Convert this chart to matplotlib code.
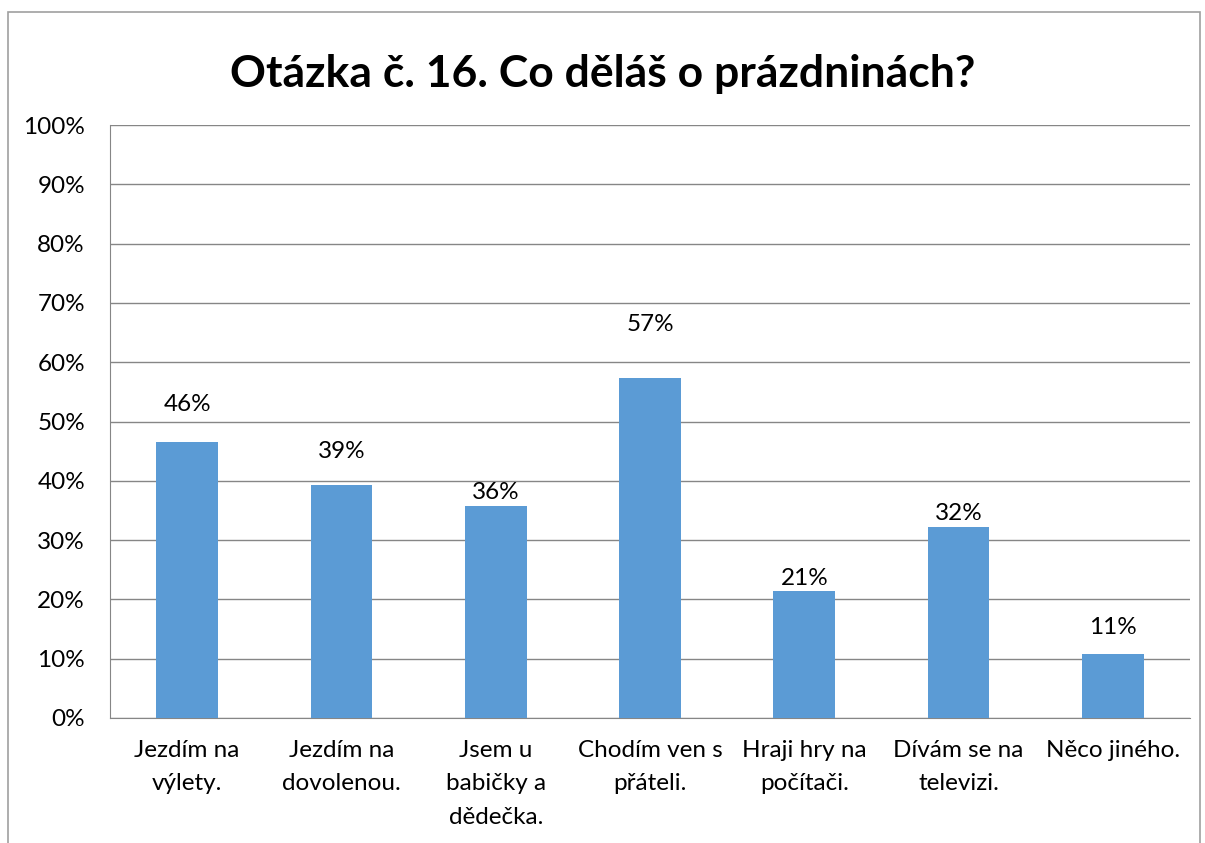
import matplotlib.pyplot as plt
from matplotlib.patches import Rectangle

categories = ["Jezdím na\nvýlety.", "Jezdím na\ndovolenou.", "Jsem u\nbabičky a\ndědečka.",
              "Chodím ven s\npřáteli.", "Hraji hry na\npočítači.", "Dívám se na\ntelevizi.",
              "Něco jiného."]
values = [46.5, 39.3, 35.7, 57.3, 21.4, 32.2, 10.8]
labels = ["46%", "39%", "36%", "57%", "21%", "32%", "11%"]
# label centre offsets above bar tops, in points
label_offsets = [27, 24, 10, 39, 9, 10, 19]

plt.rcParams['font.family'] = ['Lato', 'DejaVu Sans']

fig = plt.figure(figsize=(12.05, 8.43), dpi=100)
ax = fig.add_axes([110 / 1205, 1 - 718 / 843, 1080 / 1205, 593 / 843])

x = range(len(categories))
bars = ax.bar(x, values, width=0.4, color="#5B9BD5", zorder=3)

for b, lab, off in zip(bars, labels, label_offsets):
    ax.annotate(lab, (b.get_x() + b.get_width() / 2, b.get_height()),
                xytext=(0, off), textcoords="offset points",
                ha="center", va="center", fontsize=17.5)

ax.set_xlim(-0.5, len(categories) - 0.5)
ax.set_ylim(0, 100)
ax.set_yticks(range(0, 101, 10))
ax.set_yticklabels([f"{v}%" for v in range(0, 101, 10)], fontsize=17.5)
ax.set_xticks(list(x))
ax.set_xticklabels(categories, fontsize=17.5, linespacing=1.72, va="top")
ax.tick_params(axis="x", length=0, pad=16)
ax.tick_params(axis="y", length=0, pad=18)
ax.grid(axis="y", color="#868686", linewidth=1, zorder=0)
for s in ["top", "right"]:
    ax.spines[s].set_visible(False)
for s in ["left", "bottom"]:
    ax.spines[s].set_color("#868686")

fig.text(0.5, 1 - 74 / 843, "Otázka č. 16. Co děláš o prázdninách?",
         ha="center", va="center", fontsize=32, fontweight="bold")

frame = Rectangle((8 / 1205, -0.1), (1200 - 8) / 1205, 1.1 - 12 / 843,
                  transform=fig.transFigure, fill=False, edgecolor="#A0A0A0",
                  linewidth=1.2)
fig.patches.append(frame)

fig.savefig("out.png", dpi=100)
